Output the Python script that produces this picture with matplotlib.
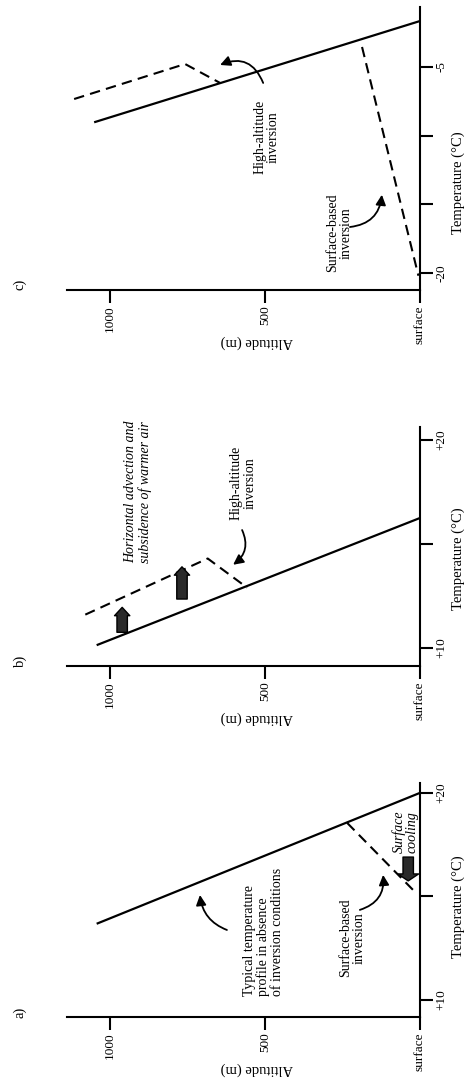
import matplotlib
matplotlib.use('Agg')
import matplotlib.pyplot as plt

nice_fonts = {
    "font.family": "Liberation Serif",
    "font.size": 10,
    "axes.linewidth": 1.5,
    "axes.labelsize": 10.5,
    "xtick.labelsize": 9.5,
    "ytick.labelsize": 9.5,
}
plt.rcParams.update(nice_fonts)

# altitude axis (m) and temperature axes (deg C)
alt_ticks = [1000, 500, 0]
alt_labels = ['1000', '500', 'surface']
ab_temp_ticks = [10, 15, 20]
ab_temp_labels = ['+10', '', '+20']
c_temp_ticks = [-20, -15, -10, -5]
c_temp_labels = ['-20', '', '', '-5']

# a) surface-based inversion
a_solid_temp = [13.7, 20.0]
a_solid_alt = [1040, 0]
a_dash_temp = [18.55, 15.2]
a_dash_alt = [235, 15]

# b) high-altitude inversion
b_solid_temp = [10.15, 16.25]
b_solid_alt = [1040, 0]
b_dash_temp = [11.6, 14.3, 12.9]
b_dash_alt = [1080, 685, 558]

# c) both kinds
c_solid_temp = [-9.0, -1.65]
c_solid_alt = [1048, 0]
c_high_temp = [-7.33, -4.78, -6.16]
c_high_alt = [1116, 758, 645]
c_surf_temp = [-3.54, -20.2]
c_surf_alt = [187, 5]


def setup(ax, temp_lim, temp_ticks, temp_labels, tag, ylab_y):
    ax.set_xlim(1139, 0)
    ax.set_ylim(*temp_lim)
    ax.spines['top'].set_visible(False)
    ax.spines['left'].set_visible(False)
    ax.yaxis.tick_right()
    ax.yaxis.set_label_position('right')
    ax.set_xticks(alt_ticks)
    ax.set_xticklabels(alt_labels, rotation=90)
    ax.set_yticks(temp_ticks)
    ax.set_yticklabels(temp_labels, rotation=90, va='center')
    ax.tick_params(direction='out', length=9, width=1.5, pad=2)
    h = ax.get_position().height * 1079
    ax.set_xlabel('Altitude (m)', rotation=180)
    ax.xaxis.set_label_coords(0.538, -45 / h)
    ax.set_ylabel('Temperature (°C)', rotation=90)
    ax.yaxis.set_label_coords(1.088, ylab_y)
    ax.text(-0.133, 0.02, tag, transform=ax.transAxes, rotation=90,
            ha='center', va='center', fontsize=10.5)


def curved(ax, tail, head, rad):
    ax.annotate('', xy=head, xytext=tail,
                arrowprops=dict(arrowstyle='-|>,head_length=0.6,head_width=0.3',
                                connectionstyle='arc3,rad=%s' % rad, color='black',
                                lw=1.3, shrinkA=0, shrinkB=0, mutation_scale=10))


def block(ax, tail, head, hw=1.1, tw=0.75, hl=0.6):
    ax.annotate('', xy=head, xytext=tail,
                arrowprops=dict(arrowstyle='simple,head_length=%s,head_width=%s,tail_width=%s' % (hl, hw, tw),
                                fc='#2a2a2a', ec='black', lw=1, shrinkA=0, shrinkB=0,
                                mutation_scale=10))


fig = plt.figure(figsize=(4.65, 10.79), dpi=100)
ax_a = fig.add_axes([0.1441, 0.0575, 0.7591, 0.2169])
ax_b = fig.add_axes([0.1441, 0.3828, 0.7591, 0.2215])
ax_c = fig.add_axes([0.1441, 0.7312, 0.7591, 0.2623])

dash = (5, 3)

# panel a
ax = ax_a
setup(ax, (9.18, 20.48), ab_temp_ticks, ab_temp_labels, 'a)', 0.47)
ax.plot(a_solid_alt, a_solid_temp, color='k', lw=1.6)
ax.plot(a_dash_alt, a_dash_temp, color='k', lw=1.5, dashes=dash)
ax.text(506, 13.3, 'Typical temperature\nprofile in absence\nof inversion conditions',
        rotation=90, ha='center', va='center', multialignment='left', linespacing=1.05)
curved(ax, (623, 13.38), (710, 15.07), -0.3)
ax.text(219, 13.0, 'Surface-based\ninversion', rotation=90, ha='center', va='center',
        multialignment='center', linespacing=1.05)
curved(ax, (194, 14.35), (119, 16.04), 0.4)
ax.text(48, 18.1, 'Surface\ncooling', rotation=90, ha='center', va='center',
        style='italic', multialignment='center', linespacing=1.0)
block(ax, (38, 16.9), (38, 15.75), hw=1.5, tw=0.75, hl=0.5)

# panel b
ax = ax_b
setup(ax, (9.13, 20.63), ab_temp_ticks, ab_temp_labels, 'b)', 0.45)
ax.plot(b_solid_alt, b_solid_temp, color='k', lw=1.6)
ax.plot(b_dash_alt, b_dash_temp, color='k', lw=1.5, dashes=dash)
ax.text(910, 17.5, 'Horizontal advection and\nsubsidence of warmer air', rotation=90,
        ha='center', va='center', style='italic', multialignment='center', linespacing=1.05)
ax.text(571, 17.93, 'High-altitude\ninversion', rotation=90, ha='center', va='center',
        multialignment='center', linespacing=1.05)
curved(ax, (574, 15.67), (603, 14.0), -0.4)
block(ax, (961, 10.75), (961, 11.95))
block(ax, (768, 12.35), (768, 13.9))

# panel c
ax = ax_c
setup(ax, (-21.24, -0.63), c_temp_ticks, c_temp_labels, 'c)', 0.38)
ax.plot(c_solid_alt, c_solid_temp, color='k', lw=1.6)
ax.plot(c_high_alt, c_high_temp, color='k', lw=1.5, dashes=dash)
ax.plot(c_surf_alt, c_surf_temp, color='k', lw=1.5, dashes=dash)
ax.text(494, -10.1, 'High-altitude\ninversion', rotation=90, ha='center', va='center',
        multialignment='center', linespacing=1.05)
curved(ax, (506, -6.16), (645, -4.85), 0.5)
ax.text(261, -17.1, 'Surface-based\ninversion', rotation=90, ha='center', va='center',
        multialignment='center', linespacing=1.05)
curved(ax, (226, -16.65), (123, -14.3), 0.4)

plt.savefig('out.png', dpi=100)
